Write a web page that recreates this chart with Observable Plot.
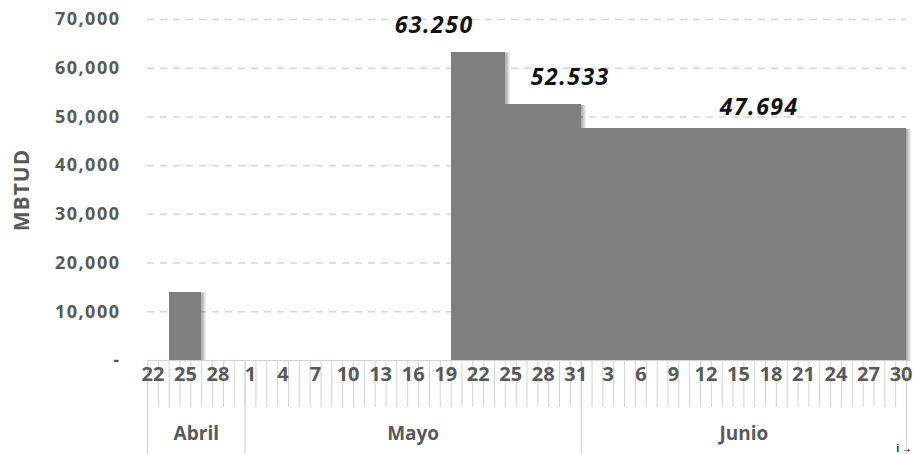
<!DOCTYPE html>
<html>
<head>
<meta charset="utf-8">
<script src="https://cdn.jsdelivr.net/npm/d3@7"></script>
<script src="https://cdn.jsdelivr.net/npm/@observablehq/plot@0.6"></script>
<style>
  html, body { margin: 0; padding: 0; background: #fff; overflow: hidden; }
  #chart svg { display: block; }
</style>
</head>
<body>
<div id="chart"></div>
<script>
// ---- Data ----
const months = ["Abril", "Mayo", "Junio"];
const monthFirstDay = [22, 1, 1];
// Daily values (MBTUD), Apr 22..Apr 30
const abrilValues = [0, 0, 14000, 14000, 14000, 0, 0, 0, 0];
// May 1..May 31
const mayoValues = [
  0, 0, 0, 0, 0, 0, 0, 0, 0, 0,
  0, 0, 0, 0, 0, 0, 0, 0, 0,
  63250, 63250, 63250, 63250, 63250,
  52533, 52533, 52533, 52533, 52533, 52533, 52533
];
// Jun 1..Jun 30
const junioValues = [
  47694, 47694, 47694, 47694, 47694, 47694, 47694, 47694, 47694, 47694,
  47694, 47694, 47694, 47694, 47694, 47694, 47694, 47694, 47694, 47694,
  47694, 47694, 47694, 47694, 47694, 47694, 47694, 47694, 47694, 47694
];
const xTickLabels = [22, 25, 28, 1, 4, 7, 10, 13, 16, 19, 22, 25, 28, 31, 3, 6, 9, 12, 15, 18, 21, 24, 27, 30];
const yTicks = [0, 10000, 20000, 30000, 40000, 50000, 60000, 70000];
const labelValues = [63250, 52533, 47694];
const labelTexts = ["63.250", "52.533", "47.694"];
const yTitle = "MBTUD";

// ---- Build table ----
const monthSeries = [abrilValues, mayoValues, junioValues];
const rows = [];
const groupBounds = [0];
let idx = 0;
monthSeries.forEach((vals, m) => {
  vals.forEach((v, k) => rows.push({i: idx++, day: monthFirstDay[m] + k, month: months[m], value: v}));
  groupBounds.push(idx);
});
const nDays = rows.length;
const boundaries = rows.map(r => r.i).concat([nDays]);
const segStart = labelValues.map(v => rows.find(r => r.value === v).i);
const barRows = rows.filter(r => r.value > 0);

const FONT = "'Open Sans', sans-serif";
const GRAY = "#595959";
const labelDx = [-17, 65, 178];
const labelDy = [-19, -20, -13];

// soft shadow built from a few offset translucent copies of the bars
const shadowLayers = [1, 2, 3, 4, 5].map(s => Plot.rectY(barRows, {
  x1: "i", x2: r => r.i + 1, y: "value", dx: s, dy: Math.min(s, 2) - 1,
  fill: "#000", fillOpacity: 0.07, inset: 0, shapeRendering: "crispEdges"
}));

const chart = Plot.plot({
  width: 914,
  height: 454,
  marginLeft: 147,
  marginRight: 8,
  marginTop: 19,
  marginBottom: 94,
  style: {fontFamily: FONT, background: "#fff"},
  x: {domain: [0, nDays], axis: null},
  y: {domain: [0, 70000], axis: null},
  marks: [
    Plot.ruleY(yTicks.filter(v => v > 0), {stroke: "#d6d6d6", strokeWidth: 1.5, strokeDasharray: "7,6"}),
    ...shadowLayers,
    Plot.rectY(barRows, {
      x1: "i", x2: r => r.i + 1, y: "value",
      fill: "#7f7f7f", inset: 0, shapeRendering: "crispEdges"
    }),
    Plot.axisX(boundaries, {tickSize: 47, tickFormat: () => "", stroke: "#d2d2d2"}),
    Plot.axisX(groupBounds, {tickSize: 94, tickFormat: () => "", stroke: "#d2d2d2"}),
    Plot.ruleY([0], {stroke: "#d2d2d2"}),
    Plot.text(xTickLabels, {
      x: (d, k) => k * 3 + 0.5, frameAnchor: "bottom", dy: 20,
      text: d => String(d), fontSize: 20, fontWeight: "bold", fill: GRAY
    }),
    Plot.text(months, {
      x: (d, k) => (groupBounds[k] + groupBounds[k + 1]) / 2, frameAnchor: "bottom", dy: 79,
      text: d => d, fontSize: 19, fontWeight: "bold", fill: GRAY
    }),
    Plot.text(yTicks, {
      y: d => d, frameAnchor: "left", dx: -27, textAnchor: "end",
      text: d => d === 0 ? "-" : d3.format(",")(d),
      fontSize: 18, fontWeight: "bold", fill: GRAY, className: "ylab"
    }),
    Plot.text([yTitle], {
      frameAnchor: "left", dx: -125, rotate: -90, textAnchor: "middle", text: d => d,
      fontSize: 21, fontWeight: "bold", fill: GRAY, className: "ytitle"
    }),
    ...labelValues.map((v, k) => Plot.text([v], {
      x: () => segStart[k], y: d => d, text: () => labelTexts[k],
      dx: labelDx[k], dy: labelDy[k], lineAnchor: "bottom",
      fontSize: 23, fontWeight: "bold", fontStyle: "italic", fill: "#111", className: "dlab"
    }))
  ]
});

const svg = d3.select(chart);
svg.selectAll("text").filter(function() { return this.closest(".ylab"); }).attr("letter-spacing", "1.5px");
svg.selectAll("text").filter(function() { return this.closest(".dlab"); }).attr("letter-spacing", "1.5px");
svg.selectAll("text").filter(function() { return this.closest(".ytitle"); }).attr("letter-spacing", "1px");

document.getElementById("chart").appendChild(chart);
</script>
</body>
</html>
